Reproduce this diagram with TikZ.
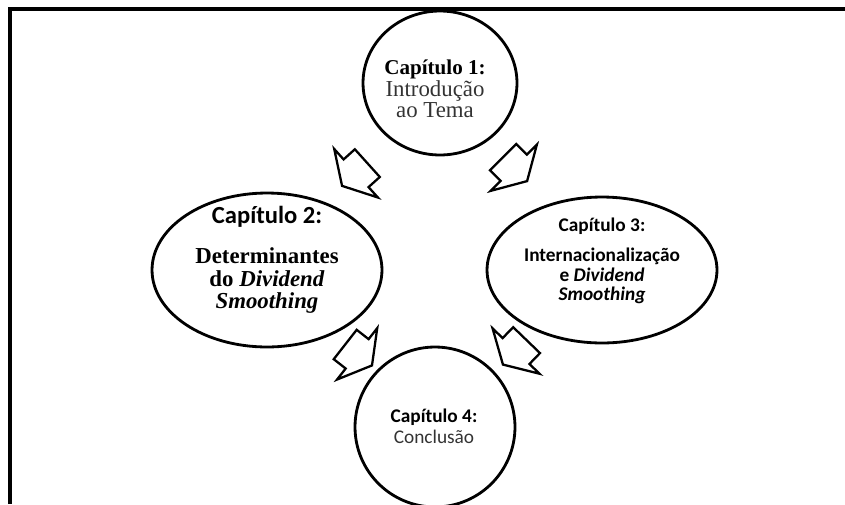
\documentclass[tikz,border=0pt]{standalone}
\usepackage{fontspec}
\setmainfont{Liberation Serif}
\newfontfamily\calibri{Carlito}
\usepackage{tikz}
\usetikzlibrary{shapes.geometric, shapes.arrows, calc, positioning}

\begin{document}
\begin{tikzpicture}[
  x=0.02cm, y=-0.02cm,
  chapter/.style={ellipse, draw, line width=1.6pt, inner sep=0pt},
  chaptext/.style={align=center, inner sep=0pt},
  bigarrow/.style={single arrow, draw, line width=1.3pt, fill=white,
    inner xsep=0pt, inner ysep=0.35cm, minimum height=0.68cm,
    single arrow head extend=0.28cm, single arrow tip angle=120},
  frame/.style={line width=1.8pt}
]
\useasboundingbox (0,0) rectangle (845,504);
\draw[frame] (10,504) -- (10,9) -- (845,9);

\node[chapter, minimum width=3.08cm, minimum height=2.88cm] (ch1) at (440,83) {};
\node[chapter, minimum width=4.6cm, minimum height=3.08cm] (ch2) at (267,270) {};
\node[chapter, minimum width=4.6cm, minimum height=2.92cm] (ch3) at (602,270) {};
\node[chapter, minimum width=3.2cm, minimum height=3.2cm] (ch4) at (435,427) {};

\node[chaptext, font=\fontsize{13}{12.2}\selectfont] (t1) at (435,89)
  {{\fontsize{12}{12.2}\selectfont\bfseries Capítulo 1:}\\
   \textcolor{black!80}{Introdução}\\ \textcolor{black!80}{ao Tema}};
\node[chaptext, font=\fontsize{13}{12.75}\selectfont\bfseries] (t2) at (267,260)
  {{\calibri\fontsize{14}{12.75}\selectfont Capítulo 2:}\\[10pt]
   Determinantes\\ do \textit{Dividend}\\ \textit{Smoothing}};
\node[chaptext, font=\calibri\bfseries\fontsize{11}{11.3}\selectfont] (t3) at (602,261)
  {Capítulo 3:\\[5.7pt] Internacionalização\\ e \textit{Dividend}\\ \textit{Smoothing}};
\node[chaptext, font=\calibri\fontsize{11}{11.9}\selectfont] (t4) at (434,426)
  {\textbf{Capítulo 4:}\\ \textcolor{black!80}{Conclusão}};

\node[bigarrow, rotate=222] (a12) at ($(ch1)!0.47!(ch2)$) {};
\node[bigarrow, rotate=315] (a13) at ($(ch1)!0.44!(ch3)$) {};
\node[bigarrow, rotate=322] (a24) at ($(ch2)!0.52!(ch4)$) {};
\node[bigarrow, rotate=226] (a34) at ($(ch3)!0.50!(ch4)$) {};

\end{tikzpicture}
\end{document}
